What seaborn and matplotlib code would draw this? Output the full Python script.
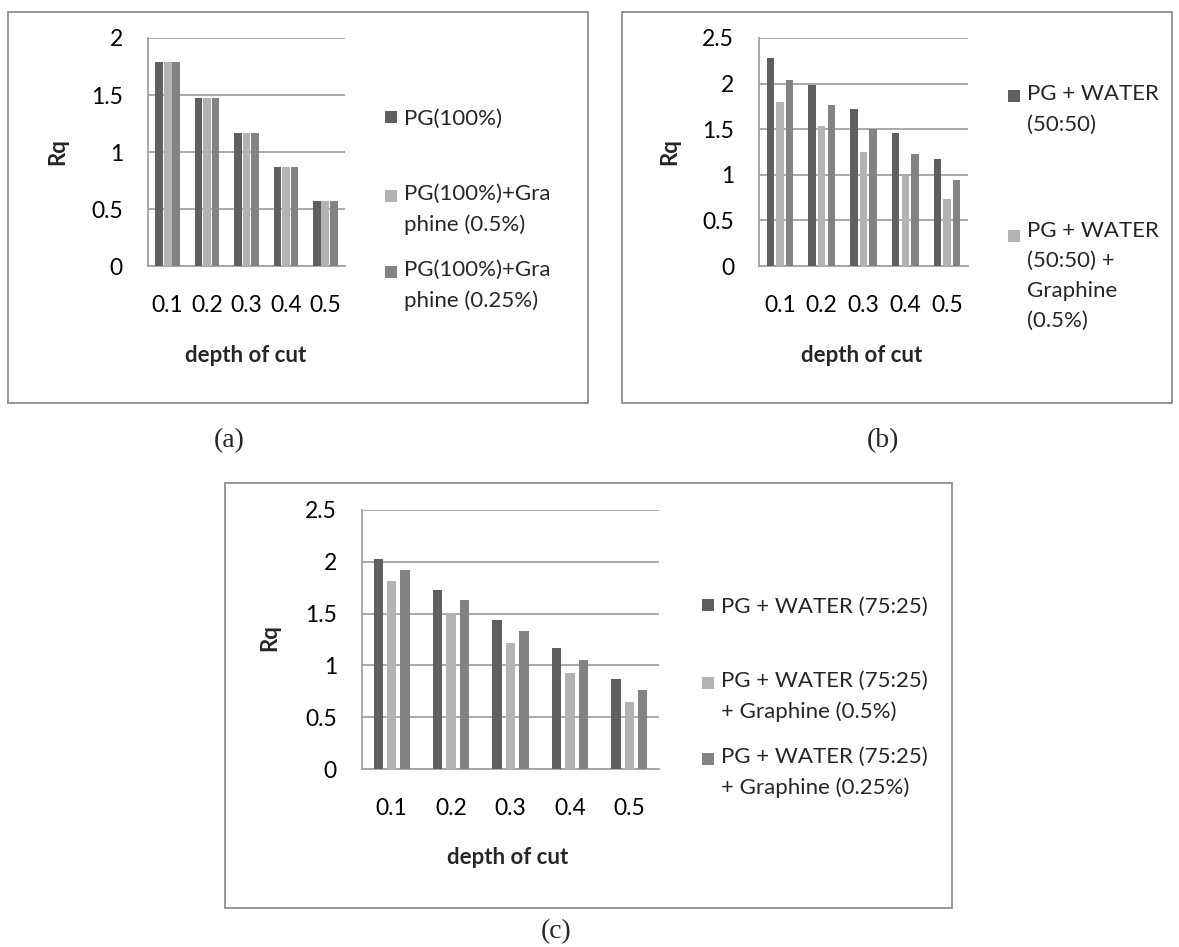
import matplotlib
matplotlib.use("Agg")
import matplotlib.pyplot as plt
import numpy as np
import pandas as pd
import seaborn as sns
from matplotlib.patches import Rectangle
from matplotlib.legend_handler import HandlerBase
from matplotlib.textpath import TextToPath
from matplotlib.font_manager import FontProperties

# ---------------- data ----------------
depth = ["0.1", "0.2", "0.3", "0.4", "0.5"]

a_labels = ["PG(100%)", "PG(100%)+Gra\nphine (0.5%)", "PG(100%)+Gra\nphine (0.25%)"]
a_pg100 = [1.79, 1.47, 1.17, 0.87, 0.57]
a_pg100_g05 = [1.79, 1.47, 1.17, 0.87, 0.57]
a_pg100_g025 = [1.79, 1.47, 1.17, 0.87, 0.57]

b_labels = ["PG + WATER\n(50:50)", "PG + WATER\n(50:50) +\nGraphine\n(0.5%)",
            "PG + WATER (50:50) + Graphine (0.25%)"]
b_pgw50 = [2.28, 1.99, 1.72, 1.46, 1.17]
b_pgw50_g05 = [1.80, 1.53, 1.25, 0.99, 0.73]
b_pgw50_g025 = [2.04, 1.76, 1.50, 1.23, 0.94]

c_labels = ["PG + WATER (75:25)", "PG + WATER (75:25)\n+ Graphine (0.5%)",
            "PG + WATER (75:25)\n+ Graphine (0.25%)"]
c_pgw75 = [2.03, 1.73, 1.44, 1.17, 0.87]
c_pgw75_g05 = [1.81, 1.51, 1.22, 0.93, 0.65]
c_pgw75_g025 = [1.92, 1.63, 1.33, 1.05, 0.76]

colors = ["#5f5f5f", "#b3b3b3", "#838383"]
grid_col = "#a3a3a3"
box_col = "#8f8f8f"

FONT = "Lato"
FS = 16        # legend
TFS = 16.5     # tick labels
LFS = 16       # axis labels
LS = 1.63

sns.set_theme(style="white")
plt.rcParams["font.family"] = [FONT, "DejaVu Sans"]

W, H = 1179, 947
fig = plt.figure(figsize=(W / 100, H / 100), dpi=100)
fig.patch.set_facecolor("white")


def frect(l, t, r, b):
    return [l / W, 1 - b / H, (r - l) / W, (b - t) / H]


# line pitch of legend text
_w, _h, _d = TextToPath().get_text_width_height_descent(
    "lp", FontProperties(family=FONT, size=FS), ismath=False)
PITCH_PT = (_h - _d) * LS
PITCH_PX = PITCH_PT * 100 / 72


class FirstLineSquare(HandlerBase):
    def __init__(self, nlines, **kw):
        super().__init__(**kw)
        self.nlines = nlines

    def create_artists(self, legend, orig_handle, xdescent, ydescent,
                       width, height, fontsize, trans):
        shift = (self.nlines - 1) * PITCH_PT / 2
        side = width
        y0 = -ydescent + 0.36 * fontsize - side / 2 + shift
        r = Rectangle((-xdescent, y0), side, side,
                      facecolor=orig_handle.get_facecolor(), edgecolor="none",
                      transform=trans)
        return [r]


def panel(box, axrect, ymax, series, labels, width, gap, edge,
          ylab_xy, xlab_xy, legend_pos, n_leg):
    l, t, r, b = box
    fig.add_artist(Rectangle((l / W, 1 - b / H), (r - l) / W, (b - t) / H,
                             transform=fig.transFigure, fill=False,
                             edgecolor=box_col, lw=1.3))
    ax = fig.add_axes(frect(*axrect))
    rows = []
    for lab, vals in zip(labels, series):
        for d, v in zip(depth, vals):
            rows.append({"depth": d, "Rq": v, "series": lab})
    df = pd.DataFrame(rows)
    sns.barplot(data=df, x="depth", y="Rq", hue="series", hue_order=labels,
                palette=colors, saturation=1, width=width, gap=gap,
                edgecolor=edge, linewidth=0, legend=False, ax=ax, zorder=3)
    ax.set_ylim(0, ymax)
    ax.set_xlim(-0.5, 4.5)
    ticks = np.arange(0, ymax + 0.01, 0.5)
    ax.set_yticks(ticks)
    ax.set_yticklabels([f"{v:g}" for v in ticks])
    ax.yaxis.grid(True, color=grid_col, lw=1.3, zorder=0)
    ax.xaxis.grid(False)
    ax.set_axisbelow(True)
    for s in ["top", "right"]:
        ax.spines[s].set_visible(False)
    for s in ["left", "bottom"]:
        ax.spines[s].set_color(grid_col)
        ax.spines[s].set_linewidth(1.3)
    ax.tick_params(axis="both", length=0, labelsize=TFS, colors="black")
    ax.tick_params(axis="y", pad=18)
    ax.tick_params(axis="x", pad=21)
    ax.set_xlabel("depth of cut", fontsize=LFS, fontweight="bold")
    ax.set_ylabel("Rq", fontsize=LFS, fontweight="bold")
    axw = axrect[2] - axrect[0]
    axh = axrect[3] - axrect[1]
    ax.yaxis.set_label_coords((ylab_xy[0] - axrect[0]) / axw, (axrect[3] - ylab_xy[1]) / axh)
    ax.xaxis.set_label_coords((xlab_xy[0] - axrect[0]) / axw, (axrect[3] - xlab_xy[1]) / axh)
    ax.xaxis.label.set_va("center")
    ax.yaxis.label.set_va("center")

    bars_handles = [Rectangle((0, 0), 1, 1, facecolor=c) for c in colors]
    for i in range(n_leg):
        lx, ly = legend_pos[i]
        nl = labels[i].count("\n") + 1
        cy = ly + 4 + (nl - 1) * PITCH_PX / 2
        leg = fig.legend(handles=[bars_handles[i]], labels=[labels[i]],
                         loc="center left", bbox_to_anchor=(lx / W, 1 - cy / H),
                         frameon=False, fontsize=FS, borderpad=0, borderaxespad=0,
                         handlelength=0.55, handleheight=0.7, handletextpad=0.3,
                         handler_map={bars_handles[i]: FirstLineSquare(nl)})
        for tx in leg.get_texts():
            tx.set_linespacing(LS)
    return ax


panel(box=(8, 12, 588, 403), axrect=(148, 38, 345, 266), ymax=2,
      series=[a_pg100, a_pg100_g05, a_pg100_g025], labels=a_labels,
      width=0.65, gap=0.1, edge="white",
      ylab_xy=(58, 152), xlab_xy=(246, 355),
      legend_pos=[(385, 115), (385, 192), (385, 268)], n_leg=3)

panel(box=(622, 12, 1172, 403), axrect=(759, 38, 968, 266), ymax=2.5,
      series=[b_pgw50, b_pgw50_g05, b_pgw50_g025], labels=b_labels,
      width=0.69, gap=0.24, edge="none",
      ylab_xy=(670, 152), xlab_xy=(862, 355),
      legend_pos=[(1008, 92), (1008, 232)], n_leg=2)

panel(box=(225, 483, 952, 908), axrect=(362, 510, 659, 769), ymax=2.5,
      series=[c_pgw75, c_pgw75_g05, c_pgw75_g025], labels=c_labels,
      width=0.675, gap=0.3, edge="none",
      ylab_xy=(270, 638), xlab_xy=(508, 858),
      legend_pos=[(702, 603), (702, 679), (702, 755)], n_leg=3)

cap = dict(fontsize=20, family=["Liberation Serif", "DejaVu Serif"], ha="center", va="center")
fig.text(229 / W, 1 - 441 / H, "(a)", **cap)
fig.text(883 / W, 1 - 441 / H, "(b)", **cap)
fig.text(556 / W, 1 - 932 / H, "(c)", **cap)

fig.savefig("out.png", dpi=100, facecolor="white")
